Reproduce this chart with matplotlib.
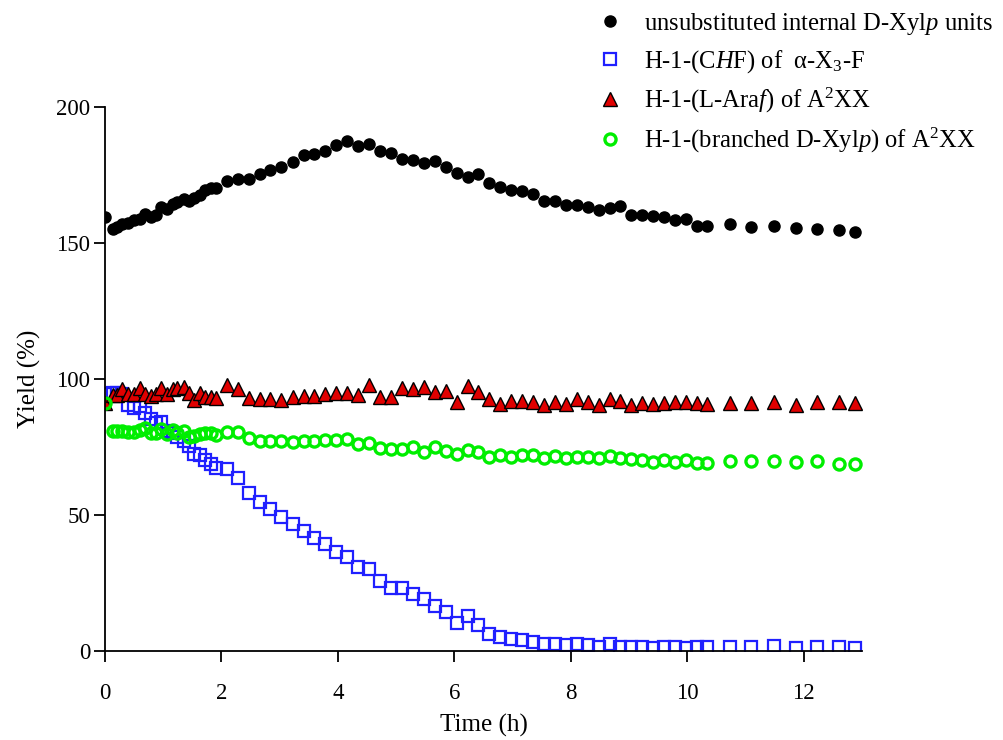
import numpy as np
import matplotlib
matplotlib.use('Agg')
import matplotlib.pyplot as plt

plt.rcParams['font.family'] = ['Liberation Serif', 'DejaVu Serif']
plt.rcParams['mathtext.fontset'] = 'custom'
plt.rcParams['mathtext.rm'] = 'Liberation Serif'
plt.rcParams['mathtext.it'] = 'Liberation Serif:italic'

# sampling times (h)
t_early = [0.0, 0.13, 0.2, 0.3, 0.4, 0.5, 0.6, 0.69, 0.79, 0.88, 0.96, 1.06,
           1.16, 1.24, 1.35, 1.44, 1.53, 1.63, 1.72, 1.82, 1.91]
t_mid = [2.09, 2.28, 2.47, 2.66, 2.84, 3.03, 3.22, 3.41, 3.59, 3.78, 3.97,
         4.16, 4.35, 4.53, 4.72, 4.91, 5.10, 5.29, 5.47, 5.66, 5.85, 6.04,
         6.23, 6.41, 6.59, 6.78, 6.97, 7.16, 7.35, 7.53, 7.72, 7.91, 8.10,
         8.29, 8.48, 8.67, 8.85, 9.04, 9.22, 9.41, 9.60, 9.79, 9.98, 10.16,
         10.34]
t_late = [10.73, 11.09, 11.48, 11.86, 12.22, 12.60, 12.88]
tiempo = np.array(t_early + t_mid + t_late)

xyl_int = [159.4, 155.0, 156.0, 157.0, 157.2, 158.5, 158.8, 160.5, 159.4, 160.4,
           163.1, 162.4, 164.3, 165.1, 166.2, 165.4, 166.4, 167.6, 169.5, 170.1,
           170.1,
           172.9, 173.7, 173.7, 175.5, 176.7, 177.9, 179.7, 182.2, 182.7, 184.0,
           186.0, 187.6, 185.8, 186.4, 183.8, 183.0, 181.0, 180.4, 179.3, 180.0,
           178.1, 175.6, 174.1, 175.2, 172.2, 170.6, 169.5, 169.1, 168.0, 165.4,
           165.5, 163.8, 164.1, 163.2, 162.1, 162.7, 163.6, 160.2, 160.2, 159.9,
           159.6, 158.3, 158.7, 156.4, 156.1,
           157.0, 156.0, 156.3, 155.4, 155.0, 154.8, 153.9]

chf = [94.5, 95.0, 95.0, 94.5, 90.4, 89.5, 90.0, 87.5, 85.3, 84.0,
       84.3, 81.0, 80.0, 78.8, 77.2, 75.3, 72.4, 72.2, 70.2, 68.8,
       67.4,
       66.8, 63.5, 58.2, 54.7, 52.1, 49.4, 46.7, 44.2, 41.7, 39.3,
       36.5, 34.7, 30.8, 30.0, 25.7, 23.0, 23.0, 21.1, 19.0, 16.4,
       14.3, 10.4, 12.9, 9.7, 6.4, 5.1, 4.3, 4.0, 3.3, 2.5,
       2.5, 2.1, 2.5, 2.2, 1.6, 2.5, 1.6, 1.6, 1.3, 1.0,
       1.3, 1.6, 1.2, 1.3, 1.3,
       1.3, 1.3, 1.8, 1.0, 1.6, 1.3, 1.0]

araf = [91.0, 94.1, 94.1, 96.2, 94.5, 94.5, 96.6, 94.5, 93.8, 94.5,
        96.6, 94.5, 96.2, 96.6, 96.9, 95.0, 92.3, 95.0, 93.3, 93.5,
        92.9,
        97.8, 96.2, 92.9, 92.6, 92.6, 92.3, 93.3, 93.8, 93.8, 94.5,
        95.0, 95.0, 94.1, 97.8, 93.5, 93.3, 96.6, 96.2, 96.9, 95.3,
        95.7, 91.4, 97.4, 95.3, 92.5, 90.8, 92.0, 92.0, 91.7, 90.4,
        91.7, 90.8, 92.5, 91.7, 90.4, 92.5, 92.0, 90.4, 91.1, 90.8,
        91.1, 91.4, 91.4, 91.1, 90.8,
        91.1, 91.1, 91.7, 90.4, 91.4, 91.7, 91.1]

xyl_br = [91.0, 80.9, 81.0, 81.0, 80.4, 80.6, 81.3, 81.9, 80.3, 80.0,
          81.6, 79.7, 81.3, 80.3, 80.9, 78.6, 79.2, 79.8, 80.0, 80.0,
          79.4,
          80.6, 80.6, 78.2, 77.1, 77.3, 77.1, 77.0, 77.3, 77.3, 77.6,
          77.6, 77.8, 76.1, 76.6, 74.5, 74.2, 74.3, 74.9, 73.3, 74.9,
          73.5, 72.4, 73.9, 73.3, 71.4, 72.1, 71.4, 72.1, 72.1, 71.1,
          71.8, 71.1, 71.4, 71.2, 70.8, 71.8, 70.8, 70.5, 70.2, 69.6,
          70.2, 69.6, 70.2, 69.2, 69.0,
          69.9, 69.9, 70.0, 69.4, 69.9, 68.6, 68.6]

etiquetas = ['unsubstituted internal D-Xyl$\\mathit{p}$ units',
             'H-1-(C$\\mathit{H}$F) of  α-X$_3$-F',
             'H-1-(L-Ara$\\mathit{f}$) of A$^2$XX',
             'H-1-(branched D-Xyl$\\mathit{p}$) of A$^2$XX']

fig = plt.figure(figsize=(10.04, 7.4), dpi=100)
ax = fig.add_axes([0.1046, 0.1203, 0.754, 0.7351])

ax.plot(tiempo, xyl_int, 'o', color='black', markersize=8, label=etiquetas[0])
ax.plot(tiempo, chf, 's', color='none', markerfacecolor='none',
        markeredgecolor='#2020ff', markeredgewidth=1.6, markersize=8.5, label=etiquetas[1])
ax.plot(tiempo, araf, '^', markerfacecolor='#e00000', markeredgecolor='black',
        markeredgewidth=1.0, markersize=9.5, label=etiquetas[2])
ax.plot(tiempo, xyl_br, 'o', markerfacecolor='none', markeredgecolor='#00ee00',
        markeredgewidth=2.4, markersize=8, label=etiquetas[3])

ax.set_xlim(0, 13.0)
ax.set_ylim(0, 200)
ax.set_xticks(range(0, 13, 2))
ax.set_yticks(range(0, 201, 50))
ax.spines['top'].set_visible(False)
ax.spines['right'].set_visible(False)
for s in ['left', 'bottom']:
    ax.spines[s].set_linewidth(1.3)
ax.tick_params(direction='out', length=8, width=1.3, labelsize=16.5)
ax.tick_params(axis='x', pad=15)
ax.tick_params(axis='y', pad=2.5)
ax.set_xlabel('Time (h)', fontsize=18, labelpad=7)
ax.set_ylabel('Yield (%)', fontsize=18, labelpad=11)

fig.legend(loc='upper left', bbox_to_anchor=(0.5946, 0.985), frameon=False,
           fontsize=17.7, handlelength=1.05, handletextpad=0.85, borderpad=0,
           borderaxespad=0, labelspacing=0.45, numpoints=1)

plt.savefig('out.png', dpi=100)
